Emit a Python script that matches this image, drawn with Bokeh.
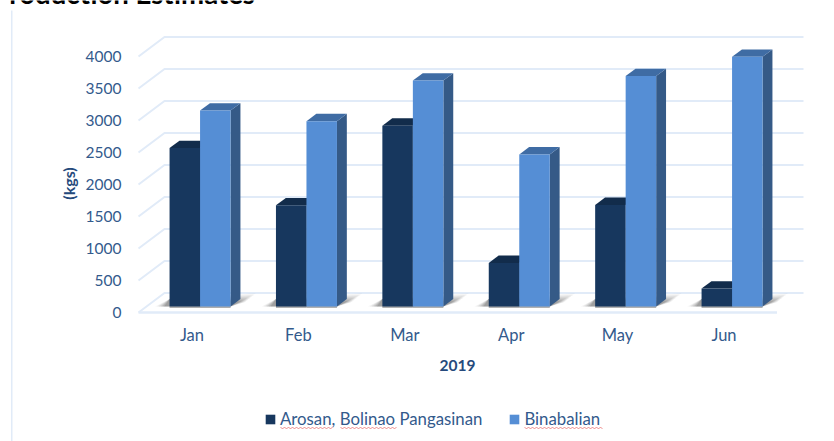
from bokeh.embed import file_html
from bokeh.resources import INLINE
from bokeh.plotting import figure
from bokeh.models import (Range1d, FixedTicker, Label, PolyAnnotation, Legend, LegendItem)

months = ["Jan", "Feb", "Mar", "Apr", "May", "Jun"]
arosan = [2475, 1580, 2825, 680, 1585, 280]
binabalian = [3060, 2895, 3530, 2375, 3600, 3900]
y_ticks = [0, 500, 1000, 1500, 2000, 2500, 3000, 3500, 4000]

DARK, LIGHT = "#17375e", "#558ed5"
DARK_TOP, LIGHT_TOP = "#122c4b", "#3f6ca4"
LIGHT_SIDE = "#355a87"
GRID = "#e1ebf8"
TEXT = "#335a8c"
FONT = "Lato"

# px <-> data mapping
PX_CAT, X0 = 106.4, 191.5
PX_VAL, Y0 = 0.064, 312.0
px = lambda x: (x - X0) / PX_CAT
py = lambda y: (Y0 - y) / PX_VAL

DX, DY = 26 / PX_CAT, 19.5 / PX_VAL     # depth of the 3-D box
D_FRONT, D_BACK = 0.31, 0.69            # depth of bars inside it
BW = 30.5 / PX_CAT                      # bar width

p = figure(width=834, height=441, output_backend="svg", toolbar_location=None,
           x_range=Range1d(px(0), px(834)), y_range=Range1d(py(441), py(0)),
           min_border_left=0, min_border_right=0, min_border_top=0, min_border_bottom=0,
           outline_line_color=None, background_fill_color="white",
           x_axis_location="below", y_axis_location="left")
p.styles = {"position": "absolute", "left": "0px", "top": "0px"}
p.grid.visible = False

# back wall, left wall diagonals, floor
gx, gy = [], []
for t in y_ticks:
    gx.append([px(138), px(138) + DX, px(803)])
    gy.append([t, t + DY, t + DY])
p.multi_line(gx, gy, line_color=GRID, line_width=2)
p.line([px(138), px(776.5)], [0, 0], line_color=GRID, line_width=2.4)

# floor shadows: stacked translucent shapes make a soft edge
for scale, alpha in [(1.2, 0.05), (1.05, 0.07), (0.9, 0.09), (0.75, 0.11), (0.6, 0.13), (0.45, 0.15)]:
    xs, ys = [], []
    for i in range(len(months)):
        left = i - BW + D_FRONT * DX
        right = i + BW + D_FRONT * DX
        yb = D_FRONT * DY
        yt = yb + 11 / PX_VAL * scale
        xs.append([left - 12 / PX_CAT * scale, left, right + 10 / PX_CAT + 13 / PX_CAT * scale, right])
        ys.append([yb, yb + 7.5 / PX_VAL, yt, yb])
    p.patches(xs, ys, fill_color="#333333", fill_alpha=alpha, line_color=None)

dd = (D_BACK - D_FRONT)


def bar3d(offset, values, front, top, side):
    left = [i + offset + D_FRONT * DX for i in range(len(values))]
    right = [l + BW for l in left]
    base = D_FRONT * DY
    tops = [v + base for v in values]
    ddx, ddy = dd * DX, dd * DY
    p.quad(left=left, right=right, bottom=base - 1.5 / PX_VAL, top=base, fill_color="#777777",
           fill_alpha=0.6, line_color=None)
    p.patches([[r, r + ddx, r + ddx, r] for r in right],
              [[base, base + ddy, t + ddy, t] for t in tops],
              fill_color=side, line_color=None)
    p.patches([[l, l + ddx, r + ddx, r] for l, r in zip(left, right)],
              [[t, t + ddy, t + ddy, t] for t in tops],
              fill_color=top, line_color=None)
    return p.quad(left=left, right=right, bottom=base, top=tops, fill_color=front, line_color=None)


r1 = bar3d(-BW, arosan, DARK, DARK_TOP, DARK_TOP)
r2 = bar3d(0, binabalian, LIGHT, LIGHT_TOP, LIGHT_SIDE)

# axes
xa = p.xaxis[0]
xa.fixed_location = 0
xa.bounds = (px(138), px(776))
xa.ticker = FixedTicker(ticks=list(range(len(months))))
xa.major_label_overrides = {i: m for i, m in enumerate(months)}
xa.axis_line_color = None
xa.major_tick_line_color = None
xa.minor_tick_line_color = None
xa.major_label_standoff = 6
xa.major_label_text_font = FONT
xa.major_label_text_font_size = "16.5px"
xa.major_label_text_color = TEXT
xa.axis_label = "2019"
xa.axis_label_standoff = 12
xa.axis_label_text_font = FONT
xa.axis_label_text_font_style = "bold"
xa.axis_label_text_font_size = "15.5px"
xa.axis_label_text_color = "#264a7c"

ya = p.yaxis[0]
ya.fixed_location = px(138)
ya.bounds = (0, py(54))
ya.ticker = FixedTicker(ticks=y_ticks)
ya.axis_line_color = None
ya.major_tick_line_color = None
ya.minor_tick_line_color = None
ya.major_label_standoff = 11
ya.major_label_text_font = FONT
ya.major_label_text_font_size = "15.5px"
ya.major_label_text_color = TEXT
ya.axis_label = "(kgs)"
ya.axis_label_standoff = 5
ya.axis_label_text_font = FONT
ya.axis_label_text_font_style = "bold"
ya.axis_label_text_font_size = "16px"
ya.axis_label_text_color = "#264a7c"

# clipped title at the top of the source picture
p.add_layout(Label(x=px(-8), y=py(-7), text="Production Estimates", text_font=FONT, text_font_style="bold",
                   text_font_size="27.6px", text_color="black", text_baseline="alphabetic"))

# left edge of the source picture's chart box
p.add_layout(PolyAnnotation(xs=[10.5, 12, 12, 10.5], ys=[10, 10, 441, 441], xs_units="canvas", ys_units="canvas",
                            fill_color=GRID, fill_alpha=1, line_color=None))

# legend
leg = Legend(items=[LegendItem(label="Arosan, Bolinao Pangasinan", renderers=[r1]),
                    LegendItem(label="Binabalian", renderers=[r2])],
             orientation="horizontal", location=(264, 12), border_line_color=None, background_fill_alpha=0,
             glyph_width=12, glyph_height=12, label_text_font=FONT, label_text_font_size="16.8px",
             label_text_color=TEXT, spacing=26, label_standoff=4, padding=0, margin=0)
p.add_layout(leg, "center")

# spell-check squiggles
for a, b in [(280, 332), (340, 397), (524, 603)]:
    n = int((b - a) / 2)
    fx = [a + 2 * k for k in range(n + 1)]
    fy = [427 + (k % 2) for k in range(n + 1)]
    p.add_layout(PolyAnnotation(xs=fx + fx[::-1], ys=fy + fy[::-1], xs_units="canvas", ys_units="canvas",
                                fill_alpha=0, line_color="#e0403a", line_width=1))

open("out.html", "w").write(file_html(p, INLINE))
